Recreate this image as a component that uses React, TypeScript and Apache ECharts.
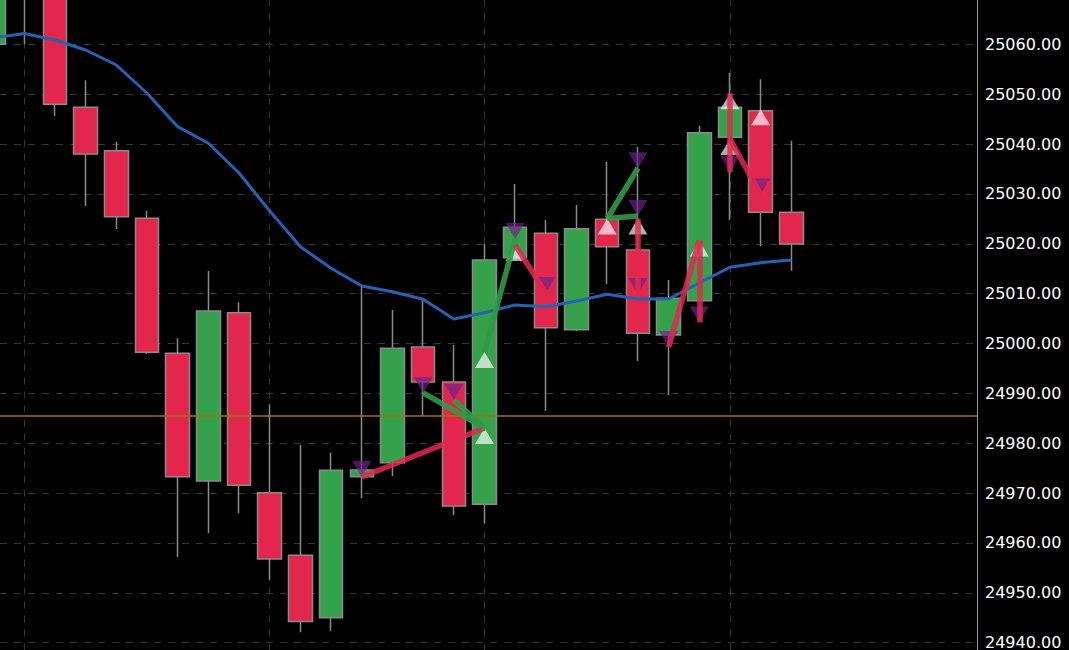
import React, { useEffect, useRef } from "react";
import * as echarts from "echarts";

// bar positions (index of each candle)
const barIndex = [0, 1, 2, 3, 4, 5, 6, 7, 8, 9, 10, 11, 12, 13, 14, 15, 16, 17, 18, 19, 20, 21, 22, 23, 24, 25, 26];

const opens = [25060.0, 25071.0, 25072.0, 25047.37, 25038.67, 25025.11, 24998.04, 24972.43, 25006.18, 24970.09, 24957.53, 24945.02, 24973.3, 24976.1, 24999.3, 24992.28, 24967.76, 25017.21, 25022.1, 25002.77, 25024.91, 25018.75, 25001.71, 25008.59, 25041.35, 25046.69, 25026.31];
const closes = [25071.0, 25072.5, 25047.97, 25038.0, 25025.43, 24998.24, 24973.3, 25006.52, 24971.57, 24956.8, 24944.26, 24974.58, 24974.64, 24999.04, 24992.28, 24967.42, 25016.75, 25023.3, 25003.17, 25023.02, 25019.42, 25002.05, 25009.07, 25042.27, 25047.37, 25026.31, 25019.96];
const lows = [25058.5, 25060.0, 25045.62, 25027.58, 25022.96, 24997.9, 24957.13, 24961.95, 24965.96, 24952.58, 24942.1, 24942.42, 24968.97, 24973.44, 24985.47, 24965.62, 24963.95, 25017.0, 24986.47, 25002.5, 25011.87, 24996.5, 24989.68, 25008.3, 25024.77, 25019.56, 25014.6];
const highs = [25073.5, 25075.0, 25074.0, 25052.78, 25040.47, 25026.57, 25001.05, 25014.54, 25008.27, 24987.81, 24979.65, 24978.11, 25011.4, 25006.72, 25008.73, 24999.7, 25019.96, 25031.99, 25024.77, 25027.78, 25036.46, 25039.47, 25012.74, 25043.68, 25054.31, 25052.98, 25040.67];

// moving average
const maValues = [25061.26, 25062.17, 25060.86, 25058.86, 25055.85, 25050.18, 25043.48, 25040.15, 25034.19, 25026.57, 25019.42, 25015.08, 25011.53, 25010.39, 25008.87, 25004.92, 25006.18, 25007.73, 25007.38, 25008.53, 25009.87, 25008.93, 25008.93, 25012.14, 25015.29, 25016.21, 25016.75];

// buy (up) and sell (down) signals
const buyIdx = [16, 16, 17, 20, 21, 23, 24, 24, 25];
const buyPx = [24983.07, 24998.3, 25019.76, 25025.07, 25025.07, 25020.66, 25050.18, 25041.01, 25046.97];
const sellIdx = [12, 14, 15, 17, 18, 21, 21, 21, 22, 23, 24, 25];
const sellPx = [24973.24, 24990.08, 24988.68, 25020.96, 25010.13, 25035.14, 25025.57, 25009.93, 24999.3, 25004.22, 25034.4, 25029.88];

// trades: side, entry bar, entry price, exit bar, exit price
const tradeSide = ["short", "short", "short", "long", "long", "long", "long", "long", "short", "long", "long", "long"];
const tradeFromIdx = [12, 14, 15, 16, 17, 20, 20, 21, 22, 23, 24, 24];
const tradeFromPx = [24973.24, 24990.08, 24988.68, 24998.3, 25019.76, 25025.07, 25025.07, 25025.07, 24999.3, 25020.66, 25050.18, 25041.01];
const tradeToIdx = [16, 16, 16, 17, 18, 21, 21, 21, 23, 23, 24, 25];
const tradeToPx = [24983.07, 24983.07, 24983.07, 25020.96, 25010.13, 25035.14, 25025.57, 25009.93, 25020.66, 25004.22, 25034.4, 25029.88];

// session separators and reference level
const sessionMarks = [1, 9, 16, 24];
const refLevel = 24985.47;

const GREEN = "#35a24b";
const RED = "#e3264b";

export default function App() {
  const ref = useRef<HTMLDivElement>(null);
  useEffect(() => {
    document.body.style.margin = "0";
    document.body.style.background = "#000";
    const chart = echarts.init(ref.current!, null, { renderer: "svg" });
    const candleData = barIndex.map((x, i) => [x, opens[i], closes[i], lows[i], highs[i]]);
    const tradeData = tradeSide.map((side, i) => {
      const pnl = side === "long" ? tradeToPx[i] - tradeFromPx[i] : tradeFromPx[i] - tradeToPx[i];
      return {
        coords: [
          [tradeFromIdx[i], tradeFromPx[i]],
          [tradeToIdx[i], tradeToPx[i]],
        ],
        lineStyle: { color: pnl >= 0 ? "#2f9a46" : "#e0284d", opacity: pnl >= 0 ? 0.9 : 0.85 },
      };
    });
    const option: any = {
      animation: false,
      backgroundColor: "#000000",
      grid: {
        left: 0,
        right: 92,
        top: -5.57,
        bottom: -42.6,
        containLabel: false,
        outerBoundsMode: "none",
      },
      xAxis: {
        type: "value",
        min: 0.208,
        max: 32.053,
        show: false,
        splitLine: { show: false },
      },
      yAxis: {
        type: "value",
        position: "right",
        min: 24930,
        max: 25070,
        interval: 10,
        axisLine: { show: true, lineStyle: { color: "#9a9a9a", width: 1 } },
        axisTick: { show: false },
        axisLabel: {
          color: "#ffffff",
          fontSize: 16,
          fontFamily: "DejaVu Sans, Verdana, sans-serif",
          margin: 8,
          showMaxLabel: false,
          formatter: (v: number) => v.toFixed(2),
        },
        splitLine: { show: true, lineStyle: { color: "#363636", type: [7, 7], width: 1 } },
      },
      series: [
        {
          type: "candlestick",
          z: 2,
          barWidth: 24,
          data: candleData,
          encode: { x: 0, y: [1, 2, 3, 4] },
          itemStyle: {
            color: GREEN,
            color0: RED,
            borderColor: "#8a8a8a",
            borderColor0: "#8a8a8a",
            borderWidth: 1.5,
          },
          markLine: {
            silent: true,
            z: 1,
            symbol: "none",
            label: { show: false },
            lineStyle: { color: "#363636", type: [7, 7], width: 1 },
            data: sessionMarks.map((i) => ({ xAxis: i })),
          },
        },
        {
          type: "line",
          z: 3,
          data: barIndex.map((x, i) => [x, maValues[i]]),
          showSymbol: false,
          symbol: "none",
          lineStyle: { color: "#2462b2", width: 3 },
          markLine: {
            silent: true,
            z: 3,
            symbol: "none",
            label: { show: false },
            lineStyle: { color: "#9c7406", type: "solid", width: 1.5 },
            data: [{ yAxis: refLevel }],
          },
        },
        {
          type: "scatter",
          z: 4,
          symbol: "triangle",
          symbolSize: [19, 16],
          symbolOffset: [0, 8],
          itemStyle: { color: "rgba(255,255,255,0.85)" },
          data: buyIdx.map((x, i) => [x, buyPx[i]]),
        },
        {
          type: "scatter",
          z: 4,
          symbol: "triangle",
          symbolRotate: 180,
          symbolSize: [19, 16],
          symbolOffset: [0, -8],
          itemStyle: { color: "rgba(112,32,138,0.85)" },
          data: sellIdx.map((x, i) => [x, sellPx[i]]),
        },
        {
          type: "lines",
          coordinateSystem: "cartesian2d",
          z: 5,
          lineStyle: { width: 5.5, opacity: 0.85 },
          data: tradeData,
        },
      ],
    };
    chart.setOption(option);
    return () => chart.dispose();
  }, []);
  return (
    <div
      ref={ref}
      style={{ position: "fixed", left: 0, top: 0, width: 1069, height: 650, background: "#000" }}
    />
  );
}
